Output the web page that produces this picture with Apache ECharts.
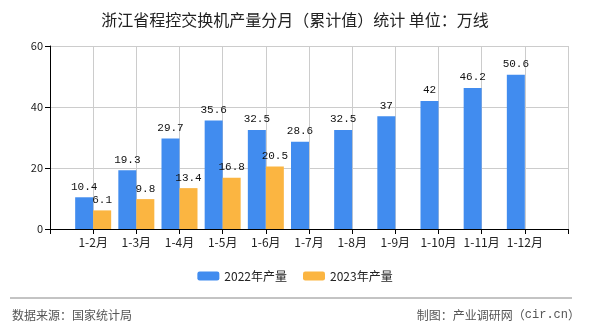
<!DOCTYPE html>
<html><head><meta charset="utf-8">
<script src="https://cdn.jsdelivr.net/npm/echarts@6/dist/echarts.min.js"></script>
<style>html,body{margin:0;padding:0;background:#fff}#c{width:590px;height:330px}</style>
</head><body><div id="c"></div>
<script>
const categories = ['1-2月','1-3月','1-4月','1-5月','1-6月','1-7月','1-8月','1-9月','1-10月','1-11月','1-12月'];
const values2022 = [10.4,19.3,29.7,35.6,32.5,28.6,32.5,37,42,46.2,50.6];
const values2023 = [6.1,9.8,13.4,16.8,20.5];
const yTicks = [0,20,40,60];

const axisCats = [''].concat(categories).concat(['']);
const pad = arr => [null].concat(arr);
const chart = echarts.init(document.getElementById('c'));
const cjk = '"Noto Sans CJK SC", sans-serif';
const mono = '"Liberation Mono", "DejaVu Sans Mono", monospace';
chart.setOption({
  animation:false,
  title:{text:'浙江省程控交换机产量分月（累计值）统计 单位：万线',left:'center',top:7,
    textStyle:{fontFamily:cjk,fontSize:16,fontWeight:'normal',color:'#222'}},
  grid:{left:50,right:22,top:46,bottom:101},
  legend:{bottom:43,left:'center',itemWidth:22,itemHeight:9,itemGap:16,
    textStyle:{fontFamily:cjk,fontSize:12,color:'#222'},
    data:['2022年产量','2023年产量']},
  xAxis:{type:'category',data:axisCats,boundaryGap:false,
    axisLine:{lineStyle:{color:'#000'}},
    axisTick:{show:true,length:5,lineStyle:{color:'#000'}},
    axisLabel:{fontFamily:cjk,fontSize:12,color:'#222',margin:7,interval:0},
    splitLine:{show:true,lineStyle:{color:'#ccc'}}},
  yAxis:{type:'value',min:yTicks[0],max:yTicks[yTicks.length-1],interval:yTicks[1]-yTicks[0],
    axisLine:{show:true,lineStyle:{color:'#000'}},
    axisTick:{show:true,length:5,lineStyle:{color:'#000'}},
    axisLabel:{fontFamily:cjk,fontSize:11,color:'#222',margin:7},
    splitLine:{show:true,lineStyle:{color:'#ccc'}}},
  series:[
    {name:'2022年产量',type:'bar',data:pad(values2022),barWidth:18,barGap:'0%',
      itemStyle:{color:'#418cef'},
      label:{show:true,position:'top',distance:5,fontFamily:mono,fontSize:11,color:'#111'}},
    {name:'2023年产量',type:'bar',data:pad(values2023),barWidth:18,barGap:'0%',
      itemStyle:{color:'#fbb541'},
      label:{show:true,position:'top',distance:5,fontFamily:mono,fontSize:11,color:'#111'}}
  ],
  graphic:[
    {type:'line',shape:{x1:10,y1:298,x2:572,y2:298},style:{stroke:'#888',lineWidth:1}},
    {type:'text',left:12,top:309,style:{text:'数据来源：国家统计局',font:'12px '+cjk,fill:'#555'}},
    {type:'text',right:10,top:309,style:{text:'制图：产业调研网（{m|cir.cn}）',font:'12px '+cjk,fill:'#555',
      rich:{m:{fontFamily:mono,fontSize:12,fill:'#555'}}}}
  ]
});
</script></body></html>
